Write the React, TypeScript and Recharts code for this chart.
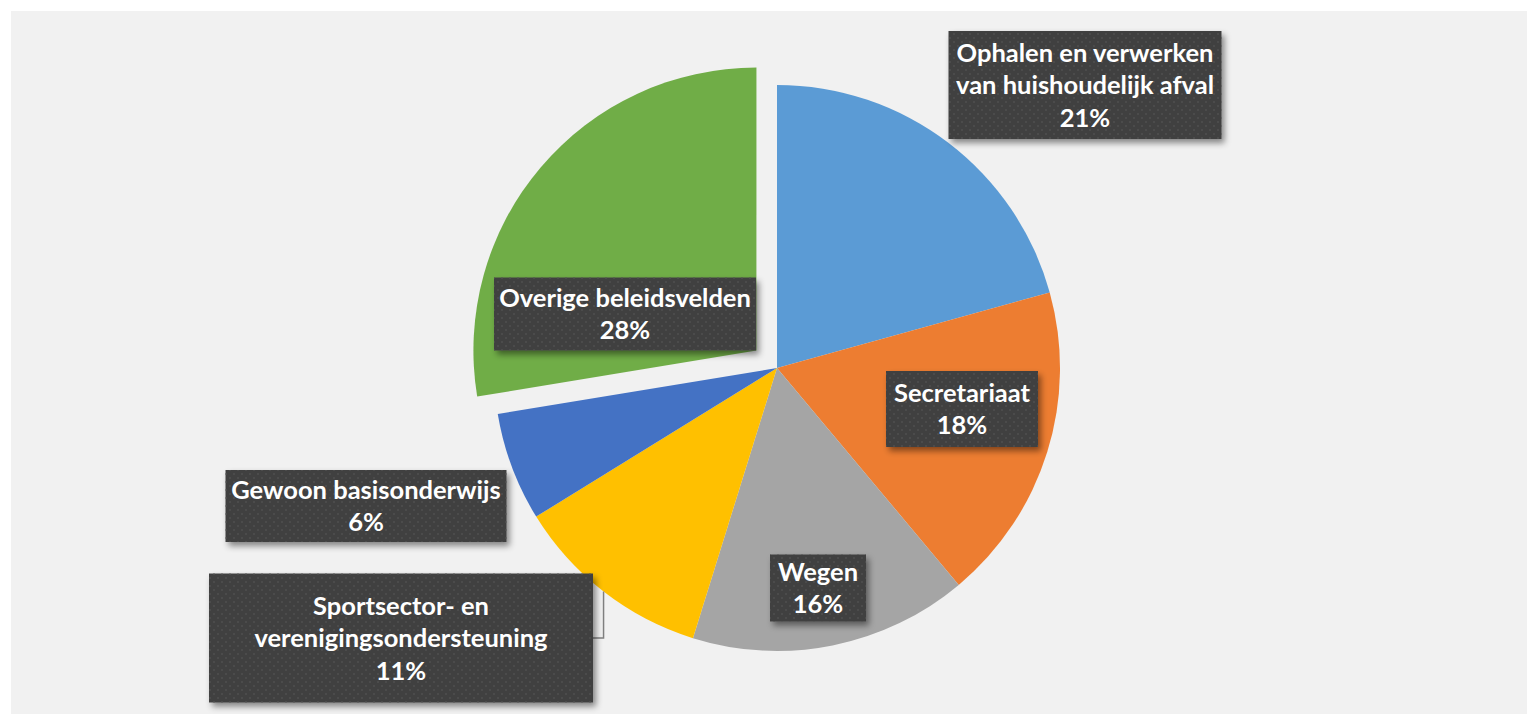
import { Cell, Pie, PieChart, Sector } from "recharts"

// slices, clockwise from 12 o'clock
const categories = [
  "Ophalen en verwerken van huishoudelijk afval",
  "Secretariaat",
  "Wegen",
  "Sportsector- en verenigingsondersteuning",
  "Gewoon basisonderwijs",
  "Overige beleidsvelden",
]
const shares = [20.7, 18.2, 15.9, 11.4, 6.2, 27.6]
const colors = ["#5B9BD5", "#ED7D31", "#A5A5A5", "#FFC000", "#4472C4", "#70AD47"]
const exploded = [false, false, false, false, false, true]

// label boxes, relative to pie centre; wrap = words on the first line
const labelBoxes = [
  { dx: 308, dy: -283, w: 273, h: 108, wrap: 3 },
  { dx: 185, dy: 41, w: 152, h: 76, wrap: 1 },
  { dx: 41, dy: 220, w: 96, h: 67, wrap: 1 },
  { dx: -376, dy: 270, w: 384, h: 129, wrap: 2, leader: true },
  { dx: -411, dy: 138, w: 281, h: 72, wrap: 2 },
  { dx: -152, dy: -54, w: 262, h: 73, wrap: 2 },
]

const data = categories.map((name, i) => ({ name, value: shares[i] }))

const RAD = Math.PI / 180
const R = 283
const EXPLODE = 27
const LINE_H = 32.5
const FONT = "Lato, 'Open Sans', sans-serif"

function splitLines(name: string, wrap: number) {
  const words = name.split(" ")
  const first = words.slice(0, wrap).join(" ")
  const rest = words.slice(wrap).join(" ")
  return rest ? [first, rest] : [first]
}

function renderShape(props: any) {
  const { cx, cy, midAngle, index } = props
  let x = cx
  let y = cy
  if (exploded[index]) {
    x = cx + EXPLODE * Math.cos(-midAngle * RAD)
    y = cy + EXPLODE * Math.sin(-midAngle * RAD)
  }
  return <Sector {...props} cx={x} cy={y} stroke="none" />
}

function renderLabel(props: any) {
  const { cx, cy, midAngle, outerRadius, index, name, percent } = props
  const box = labelBoxes[index]
  const bx = cx + box.dx
  const by = cy + box.dy
  const lines = [...splitLines(name, box.wrap), `${Math.round(percent * 100)}%`]
  const first = by - ((lines.length - 1) / 2) * LINE_H + 9
  const mx = cx + outerRadius * Math.cos(-midAngle * RAD)
  const my = cy + outerRadius * Math.sin(-midAngle * RAD)
  return (
    <g key={`lbl-${index}`}>
      {box.leader && (
        <path
          d={`M${mx},${my} V${by} H${bx + box.w / 2}`}
          fill="none"
          stroke="#7f7f7f"
          strokeWidth={1.5}
        />
      )}
      <rect
        x={bx - box.w / 2}
        y={by - box.h / 2}
        width={box.w}
        height={box.h}
        fill="#404040"
        filter="url(#boxShadow)"
      />
      <rect
        x={bx - box.w / 2}
        y={by - box.h / 2}
        width={box.w}
        height={box.h}
        fill="url(#dots)"
      />
      {lines.map((t, k) => (
        <text
          key={k}
          x={bx}
          y={first + k * LINE_H}
          textAnchor="middle"
          fill="#ffffff"
          fontFamily={FONT}
          fontWeight={700}
          fontSize={25.5}
        >
          {t}
        </text>
      ))}
    </g>
  )
}

export default function App() {
  return (
    <div
      style={{
        position: "absolute",
        left: 0,
        top: 0,
        width: 1527,
        height: 714,
        background: "#ffffff",
        overflow: "hidden",
      }}
    >
      <style>{`.recharts-pie-sectors{filter:url(#pieShadow)}`}</style>
      <svg width={0} height={0} style={{ position: "absolute" }}>
        <defs>
          <pattern id="dots" width={8} height={8} patternUnits="userSpaceOnUse">
            <circle cx={2} cy={2} r={1} fill="#4e4e4e" />
            <circle cx={6} cy={6} r={1} fill="#4e4e4e" />
          </pattern>
          <filter id="boxShadow" x="-10%" y="-20%" width="130%" height="150%">
            <feDropShadow dx={3} dy={4} stdDeviation={3} floodColor="#000" floodOpacity={0.45} />
          </filter>
          <filter id="pieShadow" x="-10%" y="-10%" width="130%" height="130%">
            <feDropShadow dx={3} dy={3} stdDeviation={5} floodColor="#000" floodOpacity={0.25} />
          </filter>
        </defs>
      </svg>
      <div
        style={{
          position: "absolute",
          left: 11,
          top: 11,
          width: 1516,
          height: 703,
          background: "#f1f1f1",
        }}
      />
      <div style={{ position: "absolute", left: 0, top: 0 }}>
        <PieChart width={1527} height={714} margin={{ top: 0, right: 0, bottom: 0, left: 0 }}>
          <Pie
            data={data}
            dataKey="value"
            nameKey="name"
            cx={777}
            cy={368}
            outerRadius={R}
            startAngle={90}
            endAngle={-270}
            stroke="none"
            shape={renderShape}
            label={renderLabel}
            labelLine={false}
            isAnimationActive={false}
          >
            {data.map((d, i) => (
              <Cell key={d.name} fill={colors[i]} />
            ))}
          </Pie>
        </PieChart>
      </div>
    </div>
  )
}
